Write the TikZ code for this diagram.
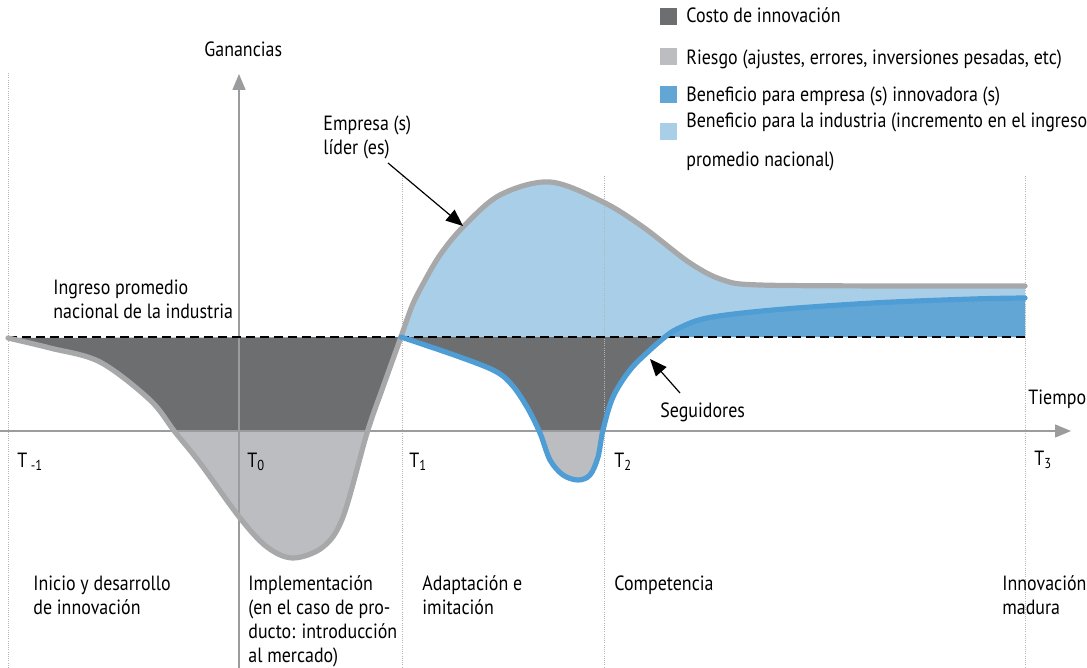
\documentclass[tikz,border=0pt]{standalone}
\usepackage{fontspec}
\setmainfont[FakeStretch=0.87]{PT Sans}
\usetikzlibrary{arrows.meta}
\definecolor{costfill}{HTML}{6D6E70}
\definecolor{riskfill}{HTML}{BCBDC0}
\definecolor{grayline}{HTML}{A7A8AA}
\definecolor{indfill}{HTML}{A9CFE8}
\definecolor{empfill}{HTML}{62A6D6}
\definecolor{blueline}{HTML}{4F9DD5}
\definecolor{axiscol}{HTML}{9B9C9E}
\definecolor{dotcol}{HTML}{B4B4B4}
\newcommand{\pathGA}{plot[smooth,tension=0.55] coordinates {(8,338) (50,348) (100,362) (150,400) (175,432) (200,463) (240,518) (267,547) (293,558) (323,547) (343,517) (367,433) (383,387) (401,337)}}
\newcommand{\pathGB}{plot[smooth,tension=0.55] coordinates {(401,337) (412,306) (423,284) (440,255) (463,227) (500,195) (550,182) (603,202) (643,227) (690,263) (723,280) (760,285) (900,286) (1025,286)}}
\newcommand{\pathBA}{plot[smooth,tension=0.55] coordinates {(401,337) (457,356) (495,371) (512,385) (527,407) (540,433) (550,460) (563,475) (578,480) (590,475) (598,457) (603,430) (613,397) (630,370) (650,350) (665,337)}}
\newcommand{\pathBB}{plot[smooth,tension=0.55] coordinates {(665,337) (677,329) (707,318) (773,310) (873,303) (973,299) (1025,298)}}
\begin{document}
\begin{tikzpicture}[x=0.5pt,y=-0.5pt,
  font=\fontsize{10.3pt}{12pt}\selectfont,
  lbl/.style={anchor=base west, inner sep=0pt, align=left},
  legbox/.style={anchor=north west, inner sep=0pt, minimum size=8.5pt, draw=none},
  dotline/.style={draw=dotcol, line width=0.5pt, dash pattern=on 0.5pt off 0.6pt},
  axisline/.style={draw=axiscol, line width=0.7pt},
  curvegray/.style={draw=grayline, line width=2.6pt, line cap=round},
  curveblue/.style={draw=blueline, line width=2.6pt, line cap=round},
  pointer/.style={draw=black, line width=0.6pt, -{Triangle[length=8.5pt,width=7pt]}}]
\useasboundingbox (0,0) rectangle (1087,668);

% fills
\fill[indfill] \pathGB -- (1025,337) -- cycle;
\fill[empfill] \pathBB -- (1025,337) -- cycle;
\begin{scope}
  \clip (0,0) rectangle (1087,431);
  \fill[costfill] \pathGA -- cycle;
  \fill[costfill] \pathBA -- cycle;
\end{scope}
\begin{scope}
  \clip (0,431) rectangle (1087,668);
  \fill[riskfill] \pathGA -- cycle;
  \fill[riskfill] \pathBA -- cycle;
\end{scope}

% dotted period lines
\coordinate (dL0) at (8,73);   \coordinate (dL1) at (8,668);
\coordinate (dT10) at (402,176); \coordinate (dT11) at (402,668);
\coordinate (dT20) at (604,176); \coordinate (dT21) at (604,668);
\coordinate (dT30) at (1025,176); \coordinate (dT31) at (1025,668);
\draw[dotline] (dL0) -- (dL1);
\draw[dotline] (dT10) -- (dT11);
\draw[dotline] (dT20) -- (dT21);
\draw[dotline] (dT30) -- (dT31);

% axes
\coordinate (xa0) at (0,431); \coordinate (xa1) at (1071,431);
\coordinate (ya0) at (239,668); \coordinate (ya1) at (239,74);
\draw[axisline, -{Triangle[length=8pt,width=6.5pt,fill=axiscol]}] (xa0) -- (xa1);
\draw[axisline, -{Triangle[length=8pt,width=6.5pt,fill=axiscol]}] (ya0) -- (ya1);

% average income dashed line
\coordinate (avg0) at (8,337); \coordinate (avg1) at (1025,337);
\draw[black, line width=0.7pt, dash pattern=on 4.5pt off 2.5pt] (avg0) -- (avg1);

% outlines
\draw[curvegray] \pathGA;
\draw[curvegray] \pathGB;
\draw[curveblue] \pathBA;
\draw[curveblue] \pathBB;

% labels (base anchor = baseline of the last line)
\node[lbl] (gan) at (204,57) {Ganancias};
\node[lbl] (emp) at (323,155) {Empresa (s)\\líder (es)};
\node[lbl] (ing) at (53,319) {Ingreso promedio\\nacional de la industria};
\node[lbl] (seg) at (660,417) {Seguidores};
\node[lbl] (tie) at (1028,404) {Tiempo};
\node[lbl] (tm1) at (17,467) {T\,\textsubscript{-1}};
\node[lbl] (t0) at (247,467) {T\textsubscript{0}};
\node[lbl] (t1) at (409,467) {T\textsubscript{1}};
\node[lbl] (t2) at (614,467) {T\textsubscript{2}};
\node[lbl] (t3) at (1034,465) {T\textsubscript{3}};

\node[lbl] (ph1) at (33,614) {Inicio y desarrollo\\de innovación};
\node[lbl] (ph2) at (248,662) {Implementación\\(en el caso de pro-\\ducto: introducción\\al mercado)};
\node[lbl] (ph3) at (422,614) {Adaptación e\\imitación};
\node[lbl] (ph4) at (614,590) {Competencia};
\node[lbl] (ph5) at (1002,614) {Innovación\\madura};

% pointers
\coordinate (empTail) at (388,163); \coordinate (empTip) at (463,226);
\draw[pointer] (empTail) -- (empTip);
\coordinate (segTail) at (680,393); \coordinate (segTip) at (650,359);
\draw[pointer] (segTail) -- (segTip);

% legend
\node[legbox, fill=costfill] (lg1) at (660,8) {};
\node[legbox, fill=riskfill] (lg2) at (660,48) {};
\node[legbox, fill=empfill] (lg3) at (660,86) {};
\node[legbox, fill=indfill] (lg4) at (660,123) {};
\node[lbl] (lt1) at (686,23) {Costo de innovación};
\node[lbl] (lt2) at (686,65) {Riesgo (ajustes, errores, inversiones pesadas, etc)};
\node[lbl] (lt3) at (686,102) {Beneficio para empresa (s) innovadora (s)};
\node[lbl] (lt4) at (686,128) {Beneficio para la industria (incremento en el ingreso};
\node[lbl] (lt5) at (686,167) {promedio nacional)};
\end{tikzpicture}
\end{document}
